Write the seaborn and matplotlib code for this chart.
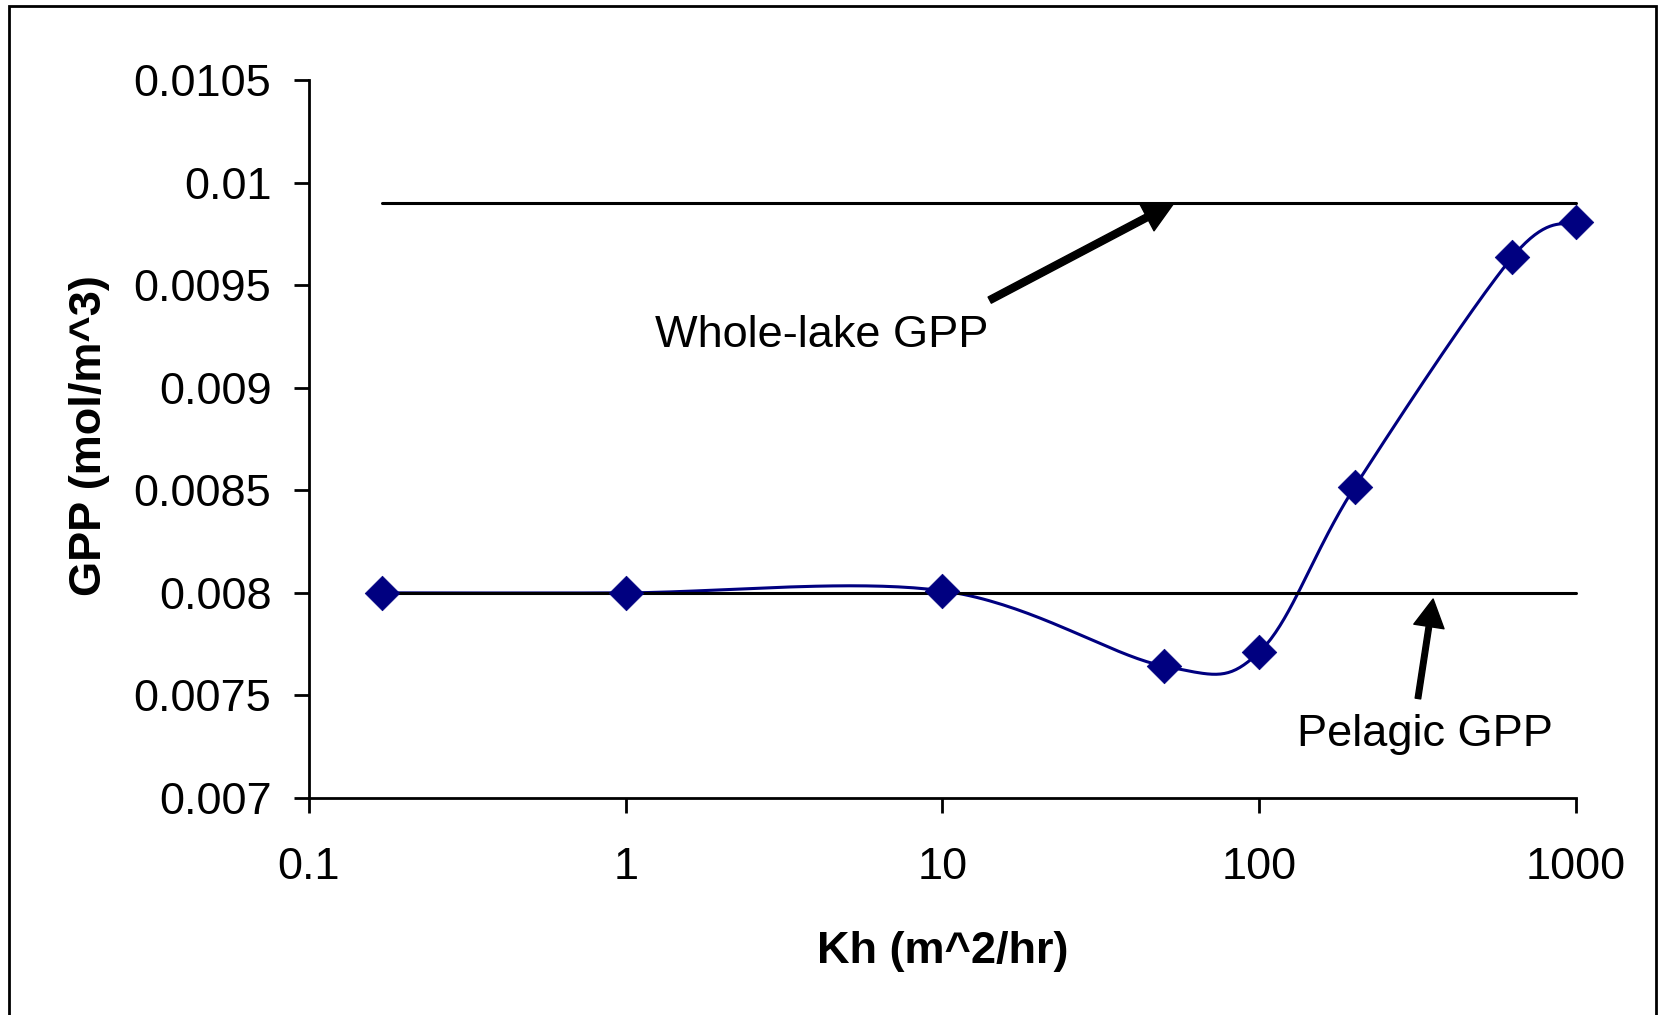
import numpy as np
import matplotlib
matplotlib.use("Agg")
import matplotlib.pyplot as plt
import seaborn as sns
from matplotlib.patches import Rectangle
from matplotlib.ticker import NullLocator, FixedLocator, FixedFormatter

# Horizontal diffusivity vs. gross primary production
kh = [0.17, 1, 10, 50, 100, 200, 630, 1000]
gpp = [0.0080, 0.0080, 0.00801, 0.007643, 0.007711, 0.008515, 0.009637, 0.009809]

# Reference levels
whole_lake_gpp = 0.0099
pelagic_gpp = 0.0080

x_ticks = [0.1, 1, 10, 100, 1000]
x_tick_labels = ["0.1", "1", "10", "100", "1000"]
y_ticks = [0.007, 0.0075, 0.008, 0.0085, 0.009, 0.0095, 0.01, 0.0105]
y_tick_labels = ["0.007", "0.0075", "0.008", "0.0085", "0.009", "0.0095", "0.01", "0.0105"]

NAVY = "#000080"


def smooth_curve(x, y, steps=40):
    """Cubic Bezier smoothing through every point, built in log10(x) space."""
    pts = np.column_stack([np.log10(x), np.asarray(y, dtype=float)])
    n = len(pts)
    t = np.linspace(0, 1, steps)[1:, None]
    out = [pts[0]]
    for i in range(n - 1):
        p0 = pts[max(i - 1, 0)]
        p1 = pts[i]
        p2 = pts[i + 1]
        p3 = pts[min(i + 2, n - 1)]
        c1 = p1 + (p2 - p0) / 6.0
        c2 = p2 - (p3 - p1) / 6.0
        seg = ((1 - t) ** 3) * p1 + 3 * ((1 - t) ** 2) * t * c1 \
            + 3 * (1 - t) * (t ** 2) * c2 + (t ** 3) * p2
        out.extend(seg)
    out = np.array(out)
    return 10 ** out[:, 0], out[:, 1]


sns.set_theme(style="ticks")
plt.rcParams["font.family"] = ["Liberation Sans", "DejaVu Sans"]

fig = plt.figure(figsize=(16.61, 10.15), dpi=100)
ax = fig.add_axes([0.186, 0.2138, 0.9488 - 0.186, 0.9212 - 0.2138])
ax.set_xscale("log")

# Reference lines spanning the simulated range
span = [kh[0], kh[-1]]
sns.lineplot(x=span, y=[whole_lake_gpp, whole_lake_gpp], color="black",
             lw=2.2, ax=ax, zorder=3)
sns.lineplot(x=span, y=[pelagic_gpp, pelagic_gpp], color="black",
             lw=2.2, ax=ax, zorder=3)

# Smoothed model curve and its points
cx, cy = smooth_curve(kh, gpp)
sns.lineplot(x=cx, y=cy, sort=False, estimator=None, color=NAVY, lw=2.2,
             ax=ax, zorder=2)
sns.scatterplot(x=kh, y=gpp, marker="D", s=310, color=NAVY, edgecolor=NAVY,
                linewidth=0.5, ax=ax, zorder=4, clip_on=False)
for line in ax.lines:
    line.set_clip_on(False)

ax.set_xlim(0.1, 1000)
ax.set_ylim(0.007, 0.0105)
ax.xaxis.set_major_locator(FixedLocator(x_ticks))
ax.xaxis.set_major_formatter(FixedFormatter(x_tick_labels))
ax.xaxis.set_minor_locator(NullLocator())
ax.yaxis.set_major_locator(FixedLocator(y_ticks))
ax.yaxis.set_major_formatter(FixedFormatter(y_tick_labels))

sns.despine(ax=ax)
for side in ("left", "bottom"):
    ax.spines[side].set_linewidth(2.0)
    ax.spines[side].set_color("black")
ax.tick_params(axis="both", direction="out", length=11, width=2,
               colors="black", labelsize=32.5)
ax.tick_params(axis="x", pad=24)
ax.tick_params(axis="y", pad=16)

ax.set_xlabel("Kh (m^2/hr)", fontsize=32.5, fontweight="bold", color="black")
ax.set_ylabel("GPP (mol/m^3)", fontsize=32.5, fontweight="bold", color="black")
ax.xaxis.set_label_coords(0.5, -0.185)
ax.yaxis.set_label_coords(-0.157, 0.505)

# Annotations
ax.text(4.17, 0.009255, "Whole-lake GPP", fontsize=32.5, ha="center",
        va="center", color="black")
ax.annotate("", xy=(53.8, whole_lake_gpp), xytext=(14.1, 0.009427),
            arrowprops=dict(arrowstyle="simple,head_length=22,head_width=22,tail_width=5",
                            mutation_scale=1, color="black", shrinkA=0, shrinkB=0))
ax.text(333, 0.00731, "Pelagic GPP", fontsize=32.5, ha="center",
        va="center", color="black")
ax.annotate("", xy=(354, 0.00797), xytext=(317, 0.007485),
            arrowprops=dict(arrowstyle="simple,head_length=20,head_width=22,tail_width=4",
                            mutation_scale=1, color="black", shrinkA=0, shrinkB=0))

# Outer frame around the chart area
fig.add_artist(Rectangle((8.5 / 1661, -0.05), (1656 - 8.5) / 1661, 0.05 + 1 - 6 / 1015,
                         transform=fig.transFigure, fill=False, lw=2.0,
                         ec="black", clip_on=False))

fig.savefig("out.png", dpi=100, facecolor="white")
